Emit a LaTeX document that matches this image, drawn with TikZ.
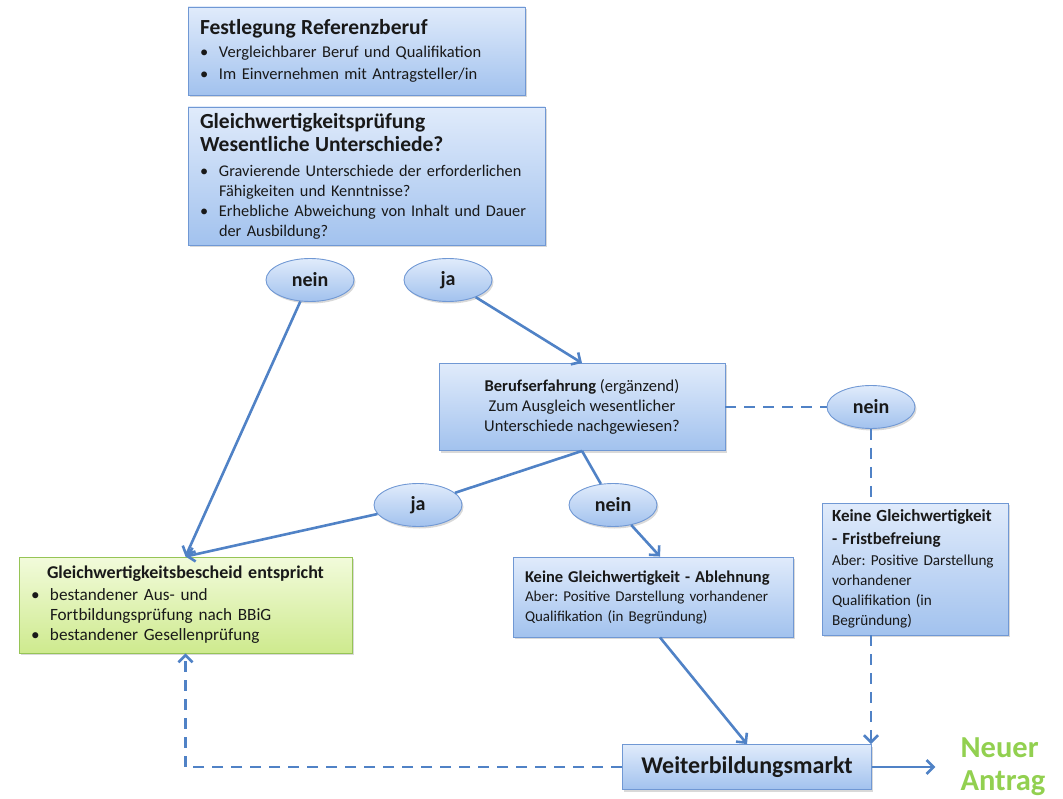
\documentclass[tikz,border=0pt]{standalone}
\usepackage{fontspec}
\setmainfont{Carlito}
\usetikzlibrary{positioning,shapes.geometric,shadows,arrows.meta}
\frenchspacing

\definecolor{boxtop}{RGB}{224,235,251}
\definecolor{boxbot}{RGB}{162,194,238}
\definecolor{boxline}{RGB}{112,152,212}
\definecolor{greentop}{RGB}{242,251,219}
\definecolor{greenbot}{RGB}{206,234,142}
\definecolor{greenline}{RGB}{150,196,86}
\definecolor{arrowcol}{RGB}{80,130,198}
\definecolor{neucol}{RGB}{146,208,80}
\definecolor{txt}{RGB}{25,25,25}

\newcommand{\headfont}{\fontsize{21.5}{23}\selectfont\bfseries}
\newcommand{\bul}[1]{\makebox[19pt][l]{\textbullet}#1}
\newcommand{\cont}[1]{\hspace*{19pt}#1}

\tikzset{
  bluebox/.style={rectangle, draw=boxline, line width=0.9pt,
    top color=boxtop, bottom color=boxbot, text=txt,
    drop shadow={shadow xshift=1.5pt, shadow yshift=-2pt, opacity=0.3},
    inner xsep=12pt, inner ysep=2pt, align=left,
    font=\fontsize{16.5}{20}\selectfont},
  greenbox/.style={bluebox, draw=greenline, top color=greentop, bottom color=greenbot},
  answer/.style={ellipse, draw=boxline, line width=0.9pt,
    top color=boxtop, bottom color=boxbot, text=txt,
    drop shadow={shadow xshift=1.5pt, shadow yshift=-2pt, opacity=0.3},
    minimum width=88pt, minimum height=43pt, inner sep=0pt,
    font=\fontsize{20}{22}\selectfont\bfseries},
  flow/.style={-{Straight Barb[length=7pt,width=14pt]}, draw=arrowcol, line width=2.6pt},
  link/.style={draw=arrowcol, line width=2.6pt},
  dashlink/.style={link, dash pattern=on 11pt off 8pt},
  dashflow/.style={flow, dash pattern=on 11pt off 8pt}
}

\begin{document}
\begin{tikzpicture}[x=1pt, y=-1pt, on grid]
  \useasboundingbox (0,0) rectangle (1063,799);

  % boxes and answers
  \node[bluebox, minimum width=337pt, minimum height=88pt, text width=313pt,
        font=\fontsize{16.5}{22}\selectfont] (fest) at (356.5,51)
    {{\headfont Festlegung Referenzberuf}\\[1pt]
     \bul{Vergleichbarer Beruf und Qualifikation}\\
     \bul{Im Einvernehmen mit Antragsteller/in}};
  \node[bluebox, minimum width=357pt, minimum height=138pt, text width=333pt,
        font=\fontsize{16.3}{20}\selectfont,
        below right=125pt and 10pt of fest] (pruef)
    {{\headfont Gleichwertigkeitsprüfung}\\[3pt]
     {\headfont Wesentliche Unterschiede?}\\[5pt]
     \bul{Gravierende Unterschiede der erforderlichen}\\
     \cont{Fähigkeiten und Kenntnisse?}\\
     \bul{Erhebliche Abweichung von Inhalt und Dauer}\\
     \cont{der Ausbildung?}};
  \node[answer, below left=104pt and 56.5pt of pruef] (nein1) {nein};
  \node[answer, right=138pt of nein1] (ja1) {ja};
  \node[bluebox, align=center, minimum width=286pt, minimum height=87pt,
        below right=127pt and 134pt of ja1] (beruf)
    {\textbf{Berufserfahrung} (ergänzend)\\
     Zum Ausgleich wesentlicher\\
     Unterschiede nachgewiesen?};
  \node[answer, right=289pt of beruf] (neinR) {nein};
  \node[answer, below left=98pt and 164pt of beruf] (jaM) {ja};
  \node[answer, right=195pt of jaM] (neinM) {nein};
  \node[greenbox, minimum width=333pt, minimum height=96pt, text width=309pt,
        font=\fontsize{17.2}{20}\selectfont,
        below left=100pt and 232.5pt of jaM] (bescheid)
    {\makebox[309pt][c]{\fontsize{18}{20}\selectfont\bfseries Gleichwertigkeitsbescheid entspricht}\\[2pt]
     \bul{bestandener Aus- und}\\
     \cont{Fortbildungsprüfung nach BBiG}\\
     \bul{bestandener Gesellenprüfung}};
  \node[bluebox, minimum width=280pt, minimum height=80pt, text width=256pt,
        font=\fontsize{15}{19.5}\selectfont,
        below right=92pt and 40pt of neinM] (ablehn)
    {{\fontsize{16.5}{19.5}\selectfont\bfseries Keine Gleichwertigkeit - Ablehnung}\\
     Aber: Positive Darstellung vorhandener\\
     Qualifikation (in Begründung)};
  \node[bluebox, minimum width=186pt, minimum height=132pt, inner xsep=10pt, text width=166pt,
        font=\fontsize{15.2}{20}\selectfont,
        below right=162pt and 44pt of neinR] (frist)
    {{\fontsize{17}{22}\selectfont\bfseries Keine Gleichwertigkeit}\\[3pt]
     {\fontsize{17}{22}\selectfont\bfseries - Fristbefreiung}\\[1pt]
     Aber: Positive Darstellung\\
     vorhandener\\
     Qualifikation (in\\
     Begründung)};
  \node[bluebox, align=center, minimum width=249pt, minimum height=45pt, inner sep=0pt,
        font=\fontsize{24}{26}\selectfont\bfseries,
        below right=170pt and 94pt of ablehn] (markt) {Weiterbildungsmarkt};
  \node[align=left, text=neucol, inner sep=0pt, font=\fontsize{30.5}{33}\selectfont\bfseries,
        right=256pt of markt] (neu) {Neuer\\Antrag};
  \coordinate (neutip) at ([xshift=-25pt]neu.west |- markt.east);

  % connectors
  \draw[flow] (nein1) -- (bescheid.north);
  \draw[flow] (ja1) -- (beruf.north);
  \draw[link] (beruf.south) -- (jaM);
  \draw[flow] (jaM) -- (bescheid.north);
  \draw[link] (beruf.south) -- (neinM);
  \draw[flow] (neinM) -- ([xshift=7pt]ablehn.north);
  \draw[flow] ([xshift=7pt]ablehn.south) -- (markt.north);
  \draw[dashlink] (beruf.east) -- (neinR.west);
  \draw[dashlink] (neinR.south) -- (neinR.south |- frist.north);
  \draw[dashflow] (neinR.south |- frist.south) -- (neinR.south |- markt.north);
  \draw[dashflow] (markt.west) -| (bescheid.south);
  \draw[flow] (markt.east) -- (neutip);
\end{tikzpicture}
\end{document}
